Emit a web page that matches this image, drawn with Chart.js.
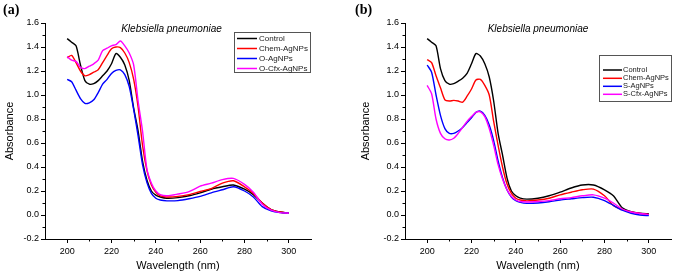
<!DOCTYPE html>
<html>
<head>
<meta charset="utf-8">
<script src="https://cdn.jsdelivr.net/npm/chart.js@4/dist/chart.umd.min.js"></script>
<style>
  html, body { margin: 0; padding: 0; background: #fff; }
  #wrap { position: relative; width: 676px; height: 273px; overflow: hidden; background: #fff; }
  canvas { position: absolute; top: 0; }
  .lbl { position: absolute; font: bold 14px "Liberation Serif", "Times New Roman", serif; color: #000; line-height: 14px; }
</style>
</head>
<body>
<div id="wrap">
  <canvas id="ca" width="338" height="273" style="left:0px"></canvas>
  <canvas id="cb" width="338" height="273" style="left:338px"></canvas>
  <div class="lbl" style="left:3px; top:3px;">(a)</div>
  <div class="lbl" style="left:355px; top:3px;">(b)</div>
</div>
<script>
// ---------- data ----------
const wavelengths = [200,202,204,206,208,210,212,214,216,218,220,222,224,226,228,230,232,234,236,238,240,242,245,250,255,260,265,270,275,280,284,288,292,296,300];
const xTickValues = [200,220,240,260,280,300];
const yTickValues = [-0.2,0,0.2,0.4,0.6,0.8,1.0,1.2,1.4,1.6];
const chartTitle = "Klebsiella pneumoniae";

// panel (a)
const labelsA = ["Control","Chem-AgNPs","O-AgNPs","O-Cfx-AgNPs"];
const controlA = [1.47,1.44,1.41,1.25,1.12,1.09,1.095,1.12,1.16,1.20,1.26,1.345,1.315,1.25,1.12,0.89,0.70,0.45,0.29,0.20,0.165,0.15,0.14,0.145,0.16,0.185,0.215,0.235,0.25,0.215,0.17,0.10,0.045,0.025,0.015];
const chemA    = [1.31,1.33,1.27,1.20,1.16,1.17,1.19,1.21,1.27,1.33,1.385,1.40,1.395,1.35,1.27,1.13,0.90,0.58,0.37,0.25,0.19,0.16,0.15,0.155,0.17,0.196,0.22,0.265,0.285,0.235,0.18,0.10,0.045,0.025,0.015];
const oAgA     = [1.13,1.11,1.04,0.97,0.93,0.935,0.96,1.02,1.09,1.13,1.18,1.205,1.21,1.17,1.07,0.88,0.66,0.42,0.27,0.18,0.14,0.125,0.118,0.12,0.135,0.155,0.185,0.21,0.235,0.20,0.15,0.07,0.035,0.02,0.015];
const oCfxA    = [1.32,1.29,1.28,1.23,1.22,1.24,1.26,1.29,1.37,1.39,1.41,1.42,1.45,1.41,1.35,1.25,0.95,0.70,0.38,0.265,0.20,0.17,0.16,0.175,0.195,0.24,0.265,0.295,0.305,0.255,0.19,0.09,0.04,0.02,0.015];

// panel (b)
const labelsB = ["Control","Chem-AgNPs","S-AgNPs","S-Cfx-AgNPs"];
const controlB = [1.47,1.44,1.41,1.22,1.12,1.09,1.095,1.115,1.14,1.18,1.26,1.345,1.325,1.26,1.15,0.95,0.68,0.50,0.31,0.20,0.16,0.14,0.132,0.14,0.16,0.19,0.225,0.25,0.25,0.21,0.16,0.06,0.028,0.015,0.01];
const chemB    = [1.295,1.27,1.16,1.06,0.96,0.95,0.955,0.95,0.94,0.99,1.05,1.125,1.13,1.08,1.00,0.78,0.58,0.40,0.26,0.18,0.14,0.125,0.118,0.125,0.14,0.168,0.19,0.21,0.216,0.16,0.08,0.045,0.025,0.012,0.005];
const sAgB     = [1.25,1.19,1.00,0.83,0.72,0.68,0.68,0.70,0.73,0.77,0.81,0.855,0.865,0.83,0.75,0.62,0.45,0.31,0.21,0.15,0.12,0.105,0.097,0.10,0.11,0.125,0.135,0.145,0.148,0.12,0.08,0.04,0.015,0.0,-0.005];
const sCfxB    = [1.08,1.01,0.80,0.68,0.635,0.625,0.64,0.68,0.73,0.78,0.82,0.855,0.86,0.82,0.72,0.58,0.42,0.30,0.21,0.155,0.125,0.112,0.108,0.112,0.12,0.135,0.145,0.16,0.168,0.14,0.10,0.05,0.025,0.012,0.005];

const colors = ["#000000","#ff0000","#0000ff","#ff00ff"];
const FONT = '"Liberation Sans", Arial, sans-serif';

function toXY(vals) { return wavelengths.map((w, i) => ({x: w, y: vals[i]})); }

function makeDatasets(labels, series) {
  return series.map((s, i) => ({
    label: labels[i],
    data: toXY(s),
    borderColor: colors[i],
    backgroundColor: colors[i],
    borderWidth: 1.4,
    pointRadius: 0,
    tension: 0.25,
    fill: false,
    order: series.length - i
  }));
}

const minorTicks = {
  id: 'minorTicks',
  afterDraw(chart) {
    const ctx = chart.ctx, xs = chart.scales.x, ys = chart.scales.y, ca = chart.chartArea;
    ctx.save();
    ctx.strokeStyle = '#000'; ctx.lineWidth = 1;
    ctx.beginPath();
    for (let v = -0.1; v < 1.6; v += 0.2) {
      const y = Math.round(ys.getPixelForValue(v)) + 0.5;
      ctx.moveTo(ca.left - 2.5, y); ctx.lineTo(ca.left, y);
    }
    for (let v = 210; v < 300; v += 20) {
      const x = Math.round(xs.getPixelForValue(v)) + 0.5;
      ctx.moveTo(x, ca.bottom); ctx.lineTo(x, ca.bottom + 2.5);
    }
    ctx.stroke();
    ctx.restore();
  }
};

const overlay = {
  id: 'overlay',
  afterDraw(chart, args, opts) {
    const ctx = chart.ctx;
    ctx.save();
    ctx.fillStyle = '#000';
    ctx.font = 'italic 10px ' + FONT;
    ctx.textAlign = 'center'; ctx.textBaseline = 'middle';
    ctx.fillText(chartTitle, opts.titleX, opts.titleY);
    const L = opts.legend;
    ctx.fillStyle = '#fff';
    ctx.fillRect(L.x, L.y, L.w, L.h);
    ctx.strokeStyle = '#555'; ctx.lineWidth = 1;
    ctx.strokeRect(L.x + 0.5, L.y + 0.5, L.w, L.h);
    ctx.font = L.font + 'px ' + FONT;
    ctx.textAlign = 'left';
    chart.data.datasets.forEach((ds, i) => {
      const y = L.rowY[i];
      ctx.strokeStyle = ds.borderColor; ctx.lineWidth = 1.5;
      ctx.beginPath(); ctx.moveTo(L.lx0, y); ctx.lineTo(L.lx1, y); ctx.stroke();
      ctx.fillStyle = '#222';
      ctx.fillText(ds.label, L.tx, y);
    });
    ctx.restore();
  }
};

function makeChart(id, labels, series, padLeft, padRight, yWidth, overlayOpts) {
  return new Chart(document.getElementById(id), {
    type: 'line',
    data: { datasets: makeDatasets(labels, series) },
    plugins: [minorTicks, overlay],
    options: {
      responsive: false,
      animation: false,
      devicePixelRatio: 1,
      layout: { padding: { left: padLeft, right: padRight, top: 23, bottom: 0 } },
      plugins: { legend: { display: false }, tooltip: { enabled: false }, overlay: overlayOpts },
      scales: {
        x: {
          type: 'linear', min: 190, max: 310, position: 'bottom',
          afterBuildTicks: s => { s.ticks = xTickValues.map(v => ({value: v})); },
          afterFit: s => { s.height = 34; },
          grid: { display: true, drawOnChartArea: false, drawTicks: true, tickLength: 4, color: '#000', tickColor: '#000' },
          border: { display: true, color: '#000', width: 1 },
          ticks: { color: '#000', font: { family: FONT, size: 9 }, padding: 3, maxRotation: 0, autoSkip: false,
                   callback: v => String(v) },
          title: { display: true, text: 'Wavelength (nm)', color: '#000', font: { family: FONT, size: 11 }, padding: { top: 0, bottom: 0 } }
        },
        y: {
          type: 'linear', min: -0.2, max: 1.6,
          afterBuildTicks: s => { s.ticks = yTickValues.map(v => ({value: v})); },
          afterFit: s => { s.width = yWidth; },
          grid: { display: true, drawOnChartArea: false, drawTicks: true, tickLength: 4, color: '#000', tickColor: '#000' },
          border: { display: true, color: '#000', width: 1 },
          ticks: { color: '#000', font: { family: FONT, size: 9 }, padding: 2, autoSkip: false,
                   callback: v => Number(v).toFixed(1) },
          title: { display: true, text: 'Absorbance', color: '#000', font: { family: FONT, size: 11 }, padding: { top: 3.5, bottom: 0 } }
        }
      }
    }
  });
}

makeChart('ca', labelsA, [controlA, chemA, oAgA, oCfxA], 0, 27, 45, {
  titleX: 171.5, titleY: 29,
  legend: { x: 234, y: 32, w: 76, h: 40, font: 8, rowY: [38.5, 48.5, 58.5, 68.5], lx0: 237, lx1: 257, tx: 259 }
});
makeChart('cb', labelsB, [controlB, chemB, sAgB, sCfxB], 18, 5, 49, {
  titleX: 200, titleY: 29,
  legend: { x: 261, y: 55, w: 72, h: 46, font: 7.5, rowY: [70, 78.3, 86.3, 94.3], lx0: 265, lx1: 284, tx: 285 }
});
</script>
</body>
</html>
